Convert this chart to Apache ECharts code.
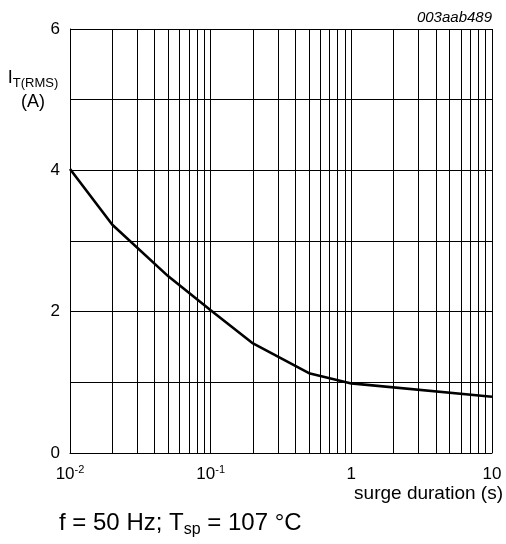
<!DOCTYPE html>
<html>
<head>
<meta charset="utf-8">
<script src="https://cdn.jsdelivr.net/npm/echarts@6/dist/echarts.min.js"></script>
<style>
html,body{margin:0;padding:0;background:#fff;}
#chart{width:506px;height:544px;}
</style>
</head>
<body>
<div id="chart"></div>
<script>
// surge duration (s) and I_T(RMS) (A)
const durations = [0.01, 0.02, 0.05, 0.1, 0.2, 0.5, 1, 10];
const currents = [4.02, 3.23, 2.5, 2.02, 1.55, 1.13, 0.985, 0.795];
// minor log gridline positions
const minorGridX = [0.02,0.03,0.04,0.05,0.06,0.07,0.08,0.09,
                    0.2,0.3,0.4,0.5,0.6,0.7,0.8,0.9,
                    2,3,4,5,6,7,8,9];
const yLabelValues = [0, 2, 4, 6];

const FONT = '"Liberation Sans", Arial, sans-serif';
const chart = echarts.init(document.getElementById('chart'), null, {renderer: 'canvas'});

chart.setOption({
  animation: false,
  backgroundColor: '#fff',
  textStyle: {fontFamily: FONT, color: '#000'},
  grid: {left: 70, right: 14, top: 29, bottom: 91, containLabel: false, outerBoundsMode: 'none'},
  xAxis: {
    type: 'log',
    logBase: 10,
    min: 0.01,
    max: 10,
    axisLine: {show: true, lineStyle: {color: '#000', width: 1}},
    axisTick: {show: false},
    splitLine: {show: true, lineStyle: {color: '#000', width: 1}},
    axisLabel: {
      margin: 11,
      color: '#000',
      fontFamily: FONT,
      formatter: function (v) {
        const e = Math.round(Math.log10(v));
        if (e === 0) return '{b|1}';
        if (e === 1) return '{b|10}';
        return '{b|10}{s|' + e + '}';
      },
      rich: {
        b: {fontSize: 17, lineHeight: 20, fontFamily: FONT, color: '#000'},
        s: {fontSize: 11, lineHeight: 12, verticalAlign: 'top', fontFamily: FONT, color: '#000'}
      }
    },
    name: 'surge duration (s)',
    nameLocation: 'end',
    nameGap: 11,
    nameTextStyle: {
      fontSize: 19, fontFamily: FONT, color: '#000',
      align: 'right', verticalAlign: 'top', padding: [31, 0, 0, 0]
    }
  },
  yAxis: {
    type: 'value',
    min: 0,
    max: 6,
    interval: 1,
    axisLine: {show: true, lineStyle: {color: '#000', width: 1}},
    axisTick: {show: false},
    splitLine: {show: true, lineStyle: {color: '#000', width: 1}},
    axisLabel: {
      margin: 10,
      fontSize: 17,
      color: '#000',
      fontFamily: FONT,
      formatter: function (v) { return yLabelValues.indexOf(v) >= 0 ? String(v) : ''; }
    }
  },
  graphic: [
    {
      type: 'text', x: 33, y: 66,
      style: {
        text: '{i|I}{sub|T(RMS)}\n{a|(A)}',
        align: 'center',
        verticalAlign: 'top',
        fontFamily: FONT,
        rich: {
          i: {fontSize: 18, lineHeight: 24, fontFamily: FONT, fill: '#000'},
          sub: {fontSize: 13, lineHeight: 10, verticalAlign: 'bottom', fontFamily: FONT, fill: '#000'},
          a: {fontSize: 18, lineHeight: 24, fontFamily: FONT, fill: '#000'}
        }
      }
    },
    {
      type: 'text', right: 14, top: 10,
      style: {text: '003aab489', fontSize: 15, fontStyle: 'italic', fontFamily: FONT, fill: '#000'}
    },
    {
      type: 'text', left: 59, top: 511,
      style: {
        text: '{m|f = 50 Hz; T}{sub|sp}{m| = 107 °C}',
        fontFamily: FONT,
        rich: {
          m: {fontSize: 24, lineHeight: 30, fontFamily: FONT, fill: '#000'},
          sub: {fontSize: 16, lineHeight: 14, verticalAlign: 'bottom', fontFamily: FONT, fill: '#000'}
        }
      }
    }
  ],
  series: [{
    type: 'line',
    data: durations.map((d, i) => [d, currents[i]]),
    showSymbol: false,
    symbol: 'none',
    lineStyle: {color: '#000', width: 2.6},
    z: 5,
    markLine: {
      silent: true,
      symbol: 'none',
      label: {show: false},
      z: 1,
      lineStyle: {color: '#000', width: 1, type: 'solid'},
      data: minorGridX.map(v => ({xAxis: v}))
    }
  }]
});
</script>
</body>
</html>
